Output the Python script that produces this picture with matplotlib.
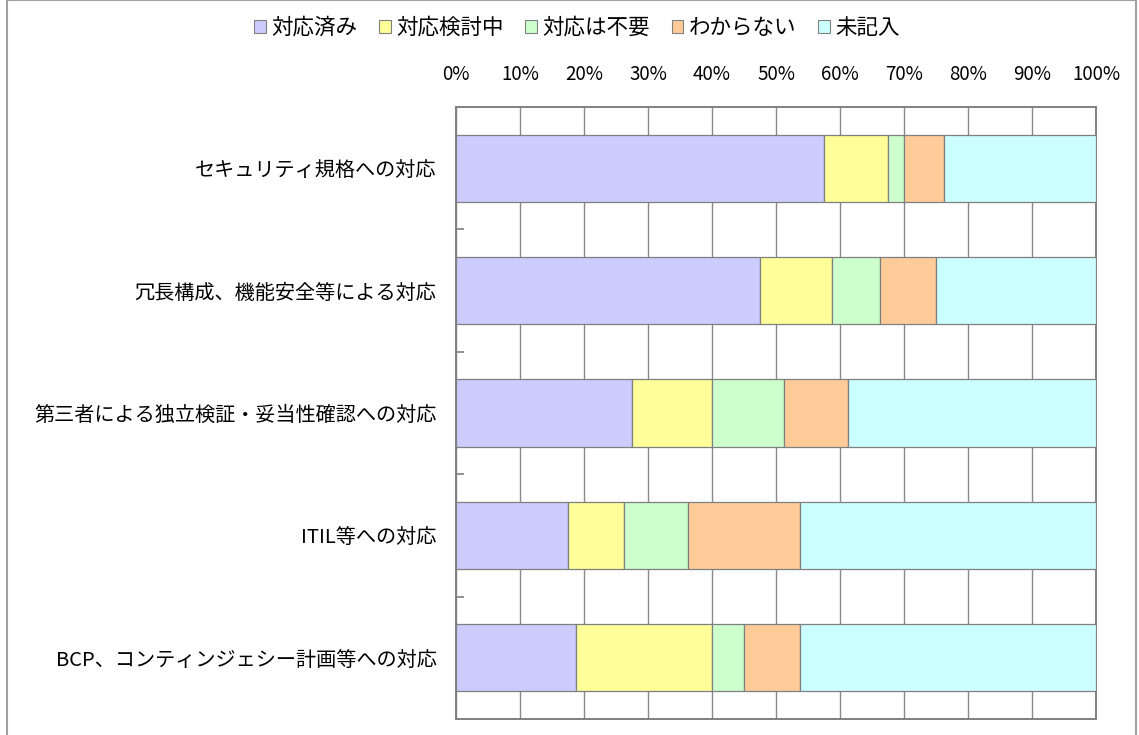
import matplotlib.pyplot as plt
from matplotlib.patches import Patch, Rectangle
import numpy as np

plt.rcParams['font.family'] = ['Noto Sans CJK JP', 'DejaVu Sans']

categories = ["セキュリティ規格への対応",
              "冗長構成、機能安全等による対応",
              "第三者による独立検証・妥当性確認への対応",
              "ITIL等への対応",
              "BCP、コンティンジェシー計画等への対応"]
series_names = ["対応済み", "対応検討中", "対応は不要", "わからない", "未記入"]
done = [57.5, 47.5, 27.5, 17.5, 18.75]
considering = [10.0, 11.25, 12.5, 8.75, 21.25]
not_needed = [2.5, 7.5, 11.25, 10.0, 5.0]
unknown = [6.25, 8.75, 10.0, 17.5, 8.75]
blank = [23.75, 25.0, 38.75, 46.25, 46.25]
colors = ["#ccccff", "#ffff99", "#ccffcc", "#ffcc99", "#ccffff"]
xticks = list(range(0, 101, 10))

fig = plt.figure(figsize=(11.39, 7.35), dpi=100)
ax = fig.add_axes([456/1139, 1-719/735, 640/1139, 612/735])

# outer chart frame
fig.patches.append(Rectangle((7/1139, -0.05), 1129/1139, 1.05 - 0.5/735,
                             transform=fig.transFigure, fill=False,
                             edgecolor="#a0a0a0", lw=1.5))

y = np.arange(len(categories))
left = np.zeros(len(categories))
for name, vals, c in zip(series_names, [done, considering, not_needed, unknown, blank], colors):
    ax.barh(y, vals, left=left, height=0.55, color=c, edgecolor="#7f7f7f",
            linewidth=0.9, label=name, zorder=3)
    left += np.array(vals)

ax.set_xlim(0, 100)
ax.set_ylim(len(categories) - 0.5, -0.5)
ax.set_xticks(xticks)
ax.set_xticklabels([f"{t}%" for t in xticks])
ax.xaxis.tick_top()
ax.tick_params(axis="x", length=0, pad=16, labelsize=13.5)
ax.set_yticks(y)
ax.set_yticklabels(categories)
ax.tick_params(axis="y", which="major", length=0, pad=14, labelsize=14.5)
ax.set_yticks(np.arange(0.5, len(categories) - 0.5, 1), minor=True)
ax.tick_params(axis="y", which="minor", direction="in", length=5.5,
               width=1.2, color="#808080")
ax.grid(axis="x", color="#888888", linewidth=1, zorder=0)
for s in ax.spines.values():
    s.set_color("#808080")
    s.set_linewidth(1.4)

handles = [Patch(facecolor=c, edgecolor="#808080", linewidth=0.8, label=n)
           for n, c in zip(series_names, colors)]
fig.legend(handles=handles, loc="center", bbox_to_anchor=(577/1139, 1-28/735),
           ncol=5, frameon=False, fontsize=15.5, handlelength=0.55,
           handleheight=0.55, handletextpad=0.25, columnspacing=1.0)

fig.savefig("out.png", dpi=100)
